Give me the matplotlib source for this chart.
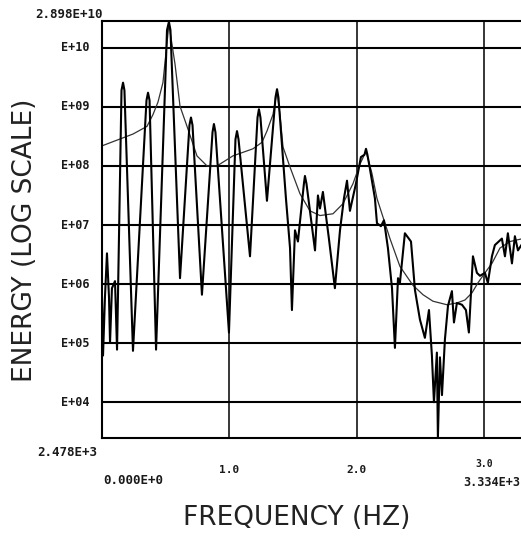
import matplotlib.pyplot as plt
import numpy as np

# spectrum: frequency (Hz) and log10 energy
freq = [0, 8, 23, 39, 55, 63, 78, 102, 118, 153, 165, 176, 243, 349, 361, 373,
        424, 510, 525, 537, 612, 686, 698, 710, 784, 867, 878, 890, 996,
        1047, 1059, 1071, 1161, 1220, 1231, 1243, 1294, 1361, 1373, 1384,
        1443, 1475, 1490, 1514, 1537, 1584, 1592, 1604, 1671, 1694, 1710,
        1733, 1780, 1827, 1867, 1898, 1922, 1945, 1992, 2031, 2059, 2071,
        2082, 2102, 2141, 2157, 2188, 2212, 2243, 2275, 2298, 2322, 2337,
        2376, 2424, 2455, 2494, 2533, 2565, 2588, 2604, 2627, 2635, 2651,
        2667, 2690, 2714, 2745, 2761, 2784, 2824, 2855, 2878, 2910, 2941,
        2965, 3004, 3027, 3059, 3082, 3137, 3161, 3184, 3216, 3239, 3263, 3302]
log_energy = [5.77, 4.79, 5.77, 6.52, 5.77, 5.01, 5.93, 6.05, 4.89, 9.28, 9.41,
              9.28, 4.87, 9.11, 9.24, 9.11, 4.89, 10.30, 10.44, 10.30, 6.10,
              8.69, 8.82, 8.69, 5.82, 8.57, 8.71, 8.57, 5.18, 8.45, 8.59, 8.45,
              6.47, 8.82, 8.96, 8.82, 7.41, 9.16, 9.30, 9.16, 7.45, 6.61, 5.56,
              6.91, 6.72, 7.70, 7.83, 7.70, 6.57, 7.50, 7.28, 7.56, 6.77, 5.93,
              6.91, 7.45, 7.75, 7.24, 7.70, 8.15, 8.19, 8.29, 8.19, 7.95, 7.45,
              7.03, 6.98, 7.08, 6.61, 5.93, 4.92, 6.10, 6.02, 6.86, 6.72, 5.90,
              5.40, 5.09, 5.56, 4.79, 4.00, 4.84, 3.40, 4.76, 4.12, 5.06, 5.63,
              5.88, 5.35, 5.68, 5.65, 5.56, 5.18, 6.47, 6.19, 6.14, 6.19, 6.02,
              6.47, 6.66, 6.77, 6.47, 6.86, 6.35, 6.81, 6.57, 6.70]

# smooth fitted curve
fit_freq = [0, 243, 353, 400, 439, 478, 525, 573, 612, 667, 745, 824, 902, 1027,
            1184, 1255, 1294, 1341, 1373, 1396, 1420, 1475, 1553, 1631, 1710,
            1812, 1890, 1969, 2024, 2071, 2118, 2157, 2259, 2337, 2439, 2518,
            2596, 2706, 2784, 2847, 2902, 2949, 3004, 3059, 3122, 3200, 3302]
fit_log = [8.34, 8.54, 8.67, 8.87, 9.08, 9.41, 10.40, 9.72, 9.01, 8.67, 8.17,
           8.00, 8.00, 8.17, 8.29, 8.40, 8.59, 8.87, 9.26, 8.87, 8.32, 7.98,
           7.53, 7.24, 7.16, 7.19, 7.36, 7.70, 8.03, 8.25, 7.87, 7.45, 6.77,
           6.30, 5.98, 5.82, 5.71, 5.65, 5.68, 5.73, 5.85, 6.02, 6.19, 6.35,
           6.61, 6.72, 6.77]

decades = [4, 5, 6, 7, 8, 9, 10]
decade_labels = ['E+04', 'E+05', 'E+06', 'E+07', 'E+08', 'E+09', 'E+10']
x_grid = [1000, 2000, 3000]
x_grid_labels = ['1.0', '2.0', '3.0']
y_min, y_max = 2.478e3, 2.898e10
x_min, x_max = 0.0, 3.334e3

fig = plt.figure(figsize=(5.21, 5.36), dpi=100)
ax = fig.add_axes([102/521, 98/536, 425/521, 417.5/536])
ax.set_yscale('log')
ax.set_xlim(x_min, x_max)
ax.set_ylim(y_min, y_max)

for d in decades:
    ax.axhline(10.0**d, color='black', lw=1.5, zorder=1)
for g in x_grid:
    ax.axvline(g, color='black', lw=1.1, zorder=1)

ax.plot(fit_freq, 10**np.array(fit_log), color='#333333', lw=0.9, zorder=2)
ax.plot(freq, 10**np.array(log_energy), color='black', lw=1.5, zorder=3)

ax.set_xticks([])
ax.set_yticks([])
ax.minorticks_off()
for s in ['left', 'bottom', 'top']:
    ax.spines[s].set_linewidth(1.5)
ax.spines['right'].set_visible(False)

mono = dict(family='DejaVu Sans Mono', fontweight='bold', color='#1a1a1a')
for d, lab in zip(decades, decade_labels):
    ax.text(-0.03, 10.0**d, lab, transform=ax.get_yaxis_transform(),
            ha='right', va='center', fontsize=8.5, **mono)
# the last label sits a little higher, above the end value
for g, lab, yy, fs in zip(x_grid, x_grid_labels, [-0.077, -0.077, -0.062], [8, 8, 7]):
    ax.text(g, yy, lab, transform=ax.get_xaxis_transform(),
            ha='center', va='center', fontsize=fs, **mono)

fig.text(35/521, 1 - 15/536, '2.898E+10', ha='left', va='center', fontsize=9, **mono)
fig.text(37/521, 1 - 452/536, '2.478E+3', ha='left', va='center', fontsize=9, **mono)
fig.text(103/521, 1 - 481/536, '0.000E+0', ha='left', va='center', fontsize=9, **mono)
fig.text(520/521, 1 - 482/536, '3.334E+3', ha='right', va='center', fontsize=8.5, **mono)

fig.text(25/521, 1 - 240/536, 'ENERGY (LOG SCALE)', rotation=90, ha='center',
         va='center', fontsize=19, color='#222222')
fig.text(297/521, 1 - 518/536, 'FREQUENCY (HZ)', ha='center', va='center',
         fontsize=19, color='#222222')

fig.savefig('out.png', dpi=100)
